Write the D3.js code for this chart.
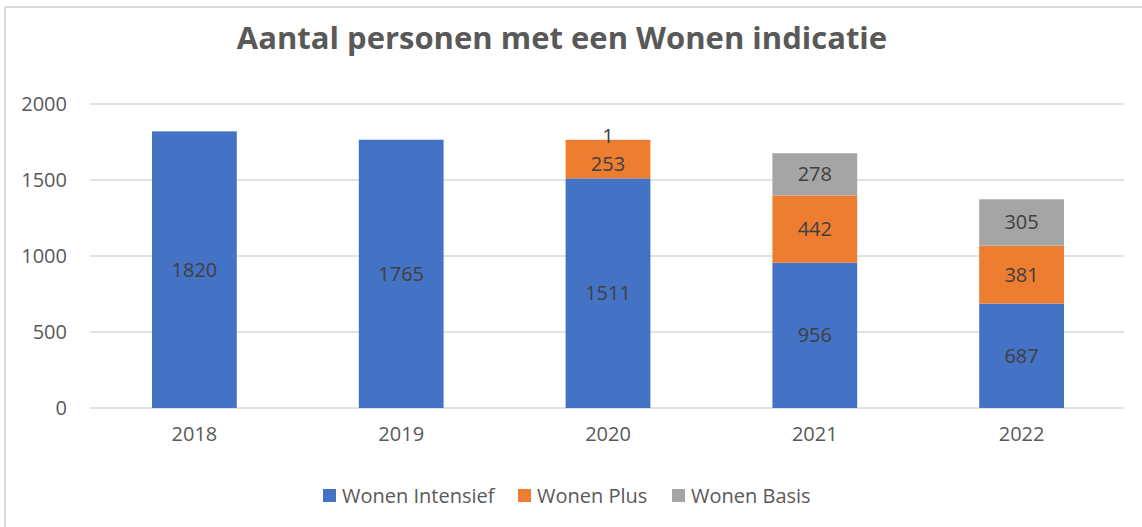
<!DOCTYPE html>
<html><head><meta charset="utf-8">
<script src="https://cdn.jsdelivr.net/npm/d3@7"></script>
<style>body{margin:0;background:#fff;} svg{display:block;}</style>
</head><body>
<svg id="c" width="1142" height="527"></svg>
<script>
const title = "Aantal personen met een Wonen indicatie";
const categories = ["2018","2019","2020","2021","2022"];
const seriesNames = ["Wonen Intensief","Wonen Plus","Wonen Basis"];
const intensief = [1820,1765,1511,956,687];
const plus = [0,0,253,442,381];
const basis = [0,0,1,278,305];
const yTicks = [0,500,1000,1500,2000];
const colors = ["#4472C4","#ED7D31","#A5A5A5"];

const font = "'Open Sans', 'Noto Sans', sans-serif";
const svg = d3.select("#c");
svg.append("rect").attr("width",1142).attr("height",527).attr("fill","#fff");
// border (top + left)
svg.append("line").attr("x1",5).attr("x2",1142).attr("y1",7).attr("y2",7).attr("stroke","#d9d9d9").attr("stroke-width",2);
svg.append("line").attr("x1",5).attr("x2",5).attr("y1",7).attr("y2",527).attr("stroke","#d9d9d9").attr("stroke-width",2);

svg.append("text").attr("x",562).attr("y",49).attr("text-anchor","middle")
  .attr("font-family",font).attr("font-weight","bold").attr("font-size",31).attr("fill","#595959").text(title);

const x = d3.scaleBand().domain(categories).range([91,1125]).paddingInner(0.59).paddingOuter(0.295);
const y = d3.scaleLinear().domain([0,2000]).range([408,104]);

// gridlines
svg.append("g").selectAll("line").data(yTicks).join("line")
  .attr("x1",90).attr("x2",1124).attr("y1",d=>y(d)).attr("y2",d=>y(d))
  .attr("stroke","#d9d9d9").attr("stroke-width",1.5);

// y labels
const yAxis = d3.axisLeft(y).tickValues(yTicks).tickFormat(d3.format("d")).tickSize(0).tickPadding(0);
const ya = svg.append("g").attr("transform","translate(67,0)").call(yAxis);
ya.select(".domain").remove();
ya.selectAll("text").attr("font-family",font).attr("font-size",20).attr("fill","#595959");

// x labels
const xAxis = d3.axisBottom(x).tickSize(0).tickPadding(0);
const xa = svg.append("g").attr("transform","translate(0,427)").call(xAxis);
xa.select(".domain").remove();
xa.selectAll("text").attr("font-family",font).attr("font-size",20).attr("fill","#595959").attr("dy","0.71em");

const table = categories.map((c,i)=>({cat:c, "Wonen Intensief":intensief[i], "Wonen Plus":plus[i], "Wonen Basis":basis[i]}));
const stack = d3.stack().keys(seriesNames)(table);

stack.forEach((s,si)=>{
  const g = svg.append("g");
  g.selectAll("rect").data(s.filter(d=>d[1]-d[0]>0)).join("rect")
    .attr("x",d=>x(d.data.cat)).attr("width",x.bandwidth())
    .attr("y",d=>y(d[1])).attr("height",d=>y(d[0])-y(d[1]))
    .attr("fill",colors[si]);
});
stack.forEach((s,si)=>{
  svg.append("g").selectAll("text").data(s.filter(d=>d[1]-d[0]>0)).join("text")
    .attr("x",d=>x(d.data.cat)+x.bandwidth()/2)
    .attr("y",d=>{const v=d[1]-d[0]; return v<20 ? y(d[1])-4 : (y(d[0])+y(d[1]))/2 + (v<300 && si===1 ? 5 : 0);})
    .attr("dy","0.35em").attr("text-anchor","middle")
    .attr("font-family",font).attr("font-size",20).attr("fill","#404040")
    .text(d=>d[1]-d[0]);
});

// legend
const legX = [323,518,672];
const lg = svg.append("g");
seriesNames.forEach((n,i)=>{
  lg.append("rect").attr("x",legX[i]).attr("y",489).attr("width",13).attr("height",13).attr("fill",colors[i]);
  lg.append("text").attr("x",legX[i]+19).attr("y",496).attr("dy","0.35em")
    .attr("font-family",font).attr("font-size",20).attr("fill","#595959").text(n);
});
</script>
</body></html>
